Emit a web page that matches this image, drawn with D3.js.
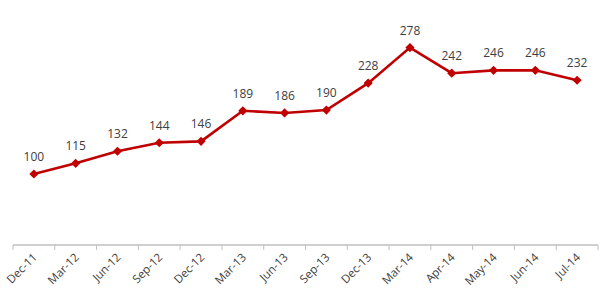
<!DOCTYPE html>
<html>
<head>
<meta charset="utf-8">
<script src="https://cdn.jsdelivr.net/npm/d3@7"></script>
<style>
  body { margin: 0; background: #fff; }
  text { font-family: "Open Sans", "DejaVu Sans", sans-serif; }
</style>
</head>
<body>
<svg id="chart"></svg>
<script>
// Data
var categories = ["Dec-11", "Mar-12", "Jun-12", "Sep-12", "Dec-12", "Mar-13", "Jun-13",
                  "Sep-13", "Dec-13", "Mar-14", "Apr-14", "May-14", "Jun-14", "Jul-14"];
var values = [100, 115, 132, 144, 146, 189, 186, 190, 228, 278, 242, 246, 246, 232];

var svgwidth = 600, svgheight = 301;
var margin = {top: 32, right: 2, bottom: 56, left: 13};
var width = svgwidth - margin.left - margin.right;
var height = svgheight - margin.top - margin.bottom;

var svg = d3.select("#chart")
    .attr("width", svgwidth)
    .attr("height", svgheight)
  .append("g")
    .attr("transform", "translate(" + margin.left + "," + margin.top + ")");

var xScale = d3.scaleBand().domain(categories).range([0, width]);
var yScale = d3.scaleLinear().domain([0, 300]).range([height, 0]);

// x axis with ticks on category boundaries
var xAxis = svg.append("g")
    .attr("transform", "translate(0," + height + ")");

xAxis.append("line")
    .attr("x1", 0).attr("x2", width)
    .attr("stroke", "#bfbfbf").attr("stroke-width", 1.3);

xAxis.selectAll(".tick")
    .data(d3.range(categories.length + 1))
  .enter().append("line")
    .attr("x1", function(d) { return d * xScale.step(); })
    .attr("x2", function(d) { return d * xScale.step(); })
    .attr("y1", 0).attr("y2", 5)
    .attr("stroke", "#bfbfbf").attr("stroke-width", 1);

xAxis.selectAll(".xlabel")
    .data(categories)
  .enter().append("text")
    .attr("class", "xlabel")
    .attr("transform", function(d) {
        return "translate(" + (xScale(d) + xScale.bandwidth() / 2 + 4) + ",13) rotate(-45)";
    })
    .attr("text-anchor", "end")
    .attr("font-size", 11.5)
    .attr("fill", "#404040")
    .text(function(d) { return d; });

// line
var line = d3.line()
    .x(function(d, i) { return xScale(categories[i]) + xScale.bandwidth() / 2; })
    .y(function(d) { return yScale(d); });

svg.append("path")
    .datum(values)
    .attr("d", line)
    .attr("fill", "none")
    .attr("stroke", "#c00000")
    .attr("stroke-width", 2.6);

// diamond markers (square turned 45deg)
svg.selectAll(".marker")
    .data(values)
  .enter().append("path")
    .attr("class", "marker")
    .attr("d", d3.symbol().type(d3.symbolSquare).size(42))
    .attr("transform", function(d, i) {
        return "translate(" + (xScale(categories[i]) + xScale.bandwidth() / 2) + "," + yScale(d) + ") rotate(45)";
    })
    .attr("fill", "#c00000");

svg.selectAll(".label")
    .data(values)
  .enter().append("text")
    .attr("class", "label")
    .attr("x", function(d, i) { return xScale(categories[i]) + xScale.bandwidth() / 2; })
    .attr("y", function(d) { return yScale(d) - 13; })
    .attr("text-anchor", "middle")
    .attr("font-size", 12)
    .attr("fill", "#404040")
    .text(function(d) { return d; });
</script>
</body>
</html>
